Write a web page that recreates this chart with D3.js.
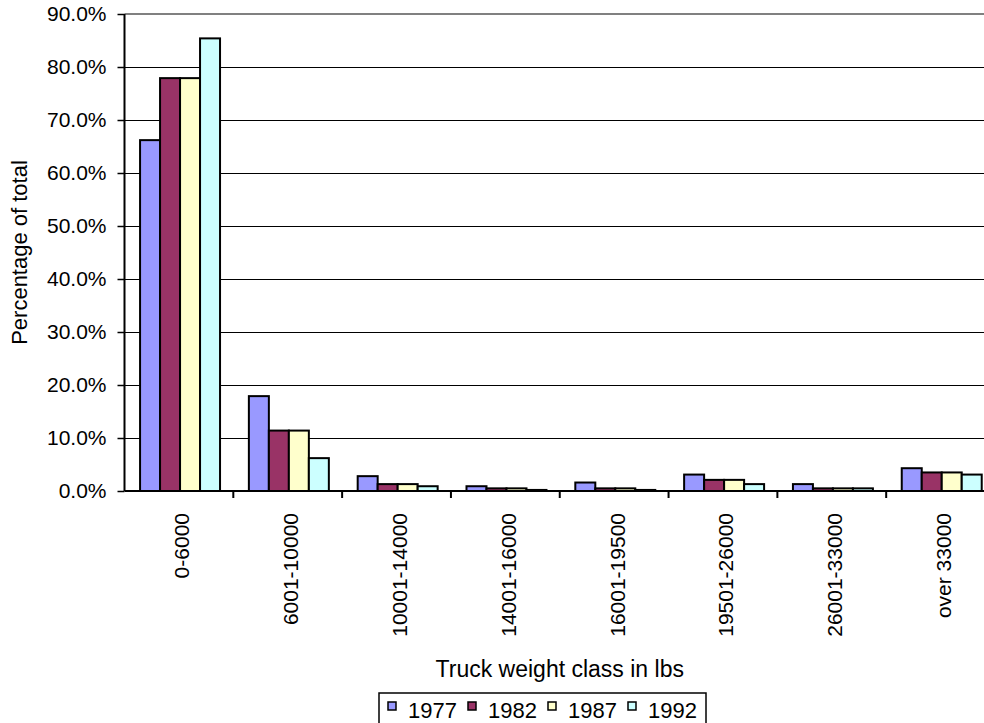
<!DOCTYPE html>
<html>
<head>
<meta charset="utf-8">
<script src="https://cdn.jsdelivr.net/npm/d3@7"></script>
<style>
  html, body { margin: 0; padding: 0; background: #fff; overflow: hidden; }
  svg { display: block; }
  text { font-family: "Liberation Sans", Arial, sans-serif; fill: #000; }
</style>
</head>
<body>
<svg id="chart" width="984" height="723"></svg>
<script>
const categories = ["0-6000", "6001-10000", "10001-14000", "14001-16000", "16001-19500", "19501-26000", "26001-33000", "over 33000"];
const seriesNames = ["1977", "1982", "1987", "1992"];
const values1977 = [66.2, 17.9, 2.8, 0.9, 1.6, 3.1, 1.3, 4.3];
const values1982 = [77.9, 11.4, 1.3, 0.5, 0.5, 2.1, 0.5, 3.5];
const values1987 = [77.9, 11.4, 1.3, 0.5, 0.5, 2.1, 0.5, 3.5];
const values1992 = [85.4, 6.2, 0.9, 0.2, 0.2, 1.3, 0.5, 3.1];
const yTicks = [0, 10, 20, 30, 40, 50, 60, 70, 80, 90];
const colors = ["#9999FF", "#993366", "#FFFFCC", "#CCFFFF"];

const seriesValues = [values1977, values1982, values1987, values1992];

const svg = d3.select("#chart");
const W = 984;
const plotLeft = 124.5, plotRight = 995, plotTop = 14, plotBottom = 491;
const tickFont = 21, titleFont = 23;

const x0 = d3.scaleBand().domain(categories).range([plotLeft, plotRight]).paddingInner(0).paddingOuter(0);
const step = x0.bandwidth();
const x1 = d3.scaleBand().domain(seriesNames).range([step * 0.143, step * 0.878]).paddingInner(0).paddingOuter(0);
const y = d3.scaleLinear().domain([0, 90]).range([plotBottom, plotTop]);
const crisp = v => Math.round(v) + 0.5;

// gridlines
svg.append("g").selectAll("line").data(yTicks.filter(t => t > 0 && t < 90)).join("line")
  .attr("x1", plotLeft).attr("x2", W)
  .attr("y1", d => crisp(y(d))).attr("y2", d => crisp(y(d)))
  .attr("stroke", "#000").attr("stroke-width", 1);
// plot area top border (gray)
svg.append("line")
  .attr("x1", plotLeft).attr("x2", W)
  .attr("y1", y(90)).attr("y2", y(90))
  .attr("stroke", "#808080").attr("stroke-width", 2);

// bars
const groups = svg.append("g").selectAll("g").data(categories).join("g")
  .attr("transform", d => `translate(${x0(d)},0)`);
groups.selectAll("rect").data((c, i) => seriesNames.map((s, j) => ({ s, v: seriesValues[j][i], j })))
  .join("rect")
  .attr("x", d => x1(d.s))
  .attr("width", x1.bandwidth())
  .attr("y", d => y(d.v))
  .attr("height", d => y(0) - y(d.v))
  .attr("fill", d => colors[d.j])
  .attr("stroke", "#000").attr("stroke-width", 2);

// y axis
const yAxis = svg.append("g").attr("transform", `translate(${plotLeft},0)`)
  .call(d3.axisLeft(y).tickValues(yTicks).tickFormat(d => d.toFixed(1) + "%").tickSize(7).tickPadding(11));
yAxis.select(".domain").attr("stroke", "#000").attr("stroke-width", 2).attr("d", `M0,${plotTop}V${plotBottom}`);
yAxis.selectAll(".tick line").attr("stroke", "#000").attr("stroke-width", 1.5);
yAxis.selectAll("text").style("font-size", tickFont + "px").style("font-family", '"Liberation Sans", Arial, sans-serif').attr("fill", "#000");

// x axis line
svg.append("line").attr("x1", plotLeft).attr("x2", W).attr("y1", plotBottom).attr("y2", plotBottom)
  .attr("stroke", "#000").attr("stroke-width", 2);
// x ticks at category boundaries
svg.append("g").selectAll("line").data(categories.slice(1)).join("line")
  .attr("x1", d => x0(d)).attr("x2", d => x0(d))
  .attr("y1", plotBottom).attr("y2", plotBottom + 7)
  .attr("stroke", "#000").attr("stroke-width", 2);
// x labels
svg.append("g").selectAll("text").data(categories).join("text")
  .attr("transform", d => `translate(${x0(d) + step / 2 + 3},${plotBottom + 22}) rotate(-90)`)
  .attr("text-anchor", "end").attr("dy", "0.35em")
  .style("font-size", tickFont + "px")
  .text(d => d);

// axis titles
svg.append("text").attr("x", (plotLeft + plotRight) / 2).attr("y", 677)
  .attr("text-anchor", "middle").style("font-size", titleFont + "px")
  .text("Truck weight class in lbs");
svg.append("text")
  .attr("transform", `translate(27,${(plotTop + plotBottom) / 2}) rotate(-90)`)
  .attr("text-anchor", "middle").style("font-size", (titleFont - 1) + "px")
  .text("Percentage of total");

// legend
const lg = svg.append("g");
lg.append("rect").attr("x", 379).attr("y", 693).attr("width", 327).attr("height", 40)
  .attr("fill", "#fff").attr("stroke", "#000").attr("stroke-width", 1.5);
const items = lg.selectAll("g").data(seriesNames).join("g")
  .attr("transform", (d, i) => `translate(${388 + i * 80},0)`);
items.append("rect").attr("x", 0).attr("y", 702).attr("width", 8).attr("height", 8)
  .attr("fill", (d, i) => colors[i]).attr("stroke", "#000").attr("stroke-width", 1.5);
items.append("text").attr("x", 20).attr("y", 718).style("font-size", (titleFont - 1) + "px").text(d => d);
</script>
</body>
</html>
